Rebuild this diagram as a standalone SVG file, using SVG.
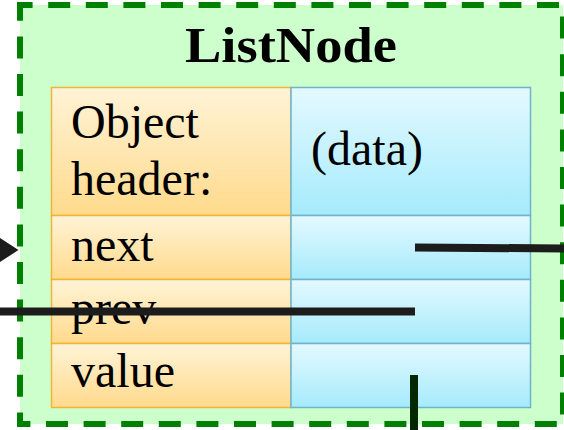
<svg xmlns="http://www.w3.org/2000/svg" width="564" height="430" viewBox="0 0 564 430">
  <defs>
    <linearGradient id="gOrange" x1="0" y1="0" x2="0" y2="1">
      <stop offset="0" stop-color="#fff3d6"/>
      <stop offset="1" stop-color="#ffda8c"/>
    </linearGradient>
    <linearGradient id="gBlue" x1="0" y1="0" x2="0" y2="1">
      <stop offset="0" stop-color="#e4f9ff"/>
      <stop offset="1" stop-color="#a5ebfc"/>
    </linearGradient>
  </defs>
  <style>
    .frame { fill: #ccffcc; stroke: #008000; stroke-width: 6; stroke-dasharray: 22 15.6; stroke-dashoffset: 9.4; }
    .key { fill: url(#gOrange); stroke: #f2b33a; stroke-width: 1.5; }
    .val { fill: url(#gBlue); stroke: #6fb2cc; stroke-width: 1.5; }
    .label { font-family: "Liberation Serif", "Times New Roman", serif; font-size: 48px; fill: #000; }
    .title { font-family: "Liberation Serif", "Times New Roman", serif; font-size: 51px; font-weight: bold; fill: #000; }
    .ptr { stroke: #1c1c1c; stroke-width: 8; fill: none; }
    .ptr-down { stroke: #022802; stroke-width: 8; fill: none; }
  </style>

  <!-- ListNode container with its fields -->
  <g id="listnode">
    <rect class="frame" x="20" y="5" width="543" height="419"/>
    <text class="title" x="291" y="62" text-anchor="middle" textLength="212" lengthAdjust="spacingAndGlyphs">ListNode</text>

    <g id="field-header">
      <rect class="key" x="51.5" y="87.5" width="239.5" height="128"/>
      <rect class="val" x="291" y="87.5" width="239.5" height="128"/>
      <text class="label" x="71" y="138">Object</text>
      <text class="label" x="71" y="195">header:</text>
      <text class="label" x="311" y="165">(data)</text>
    </g>
    <g id="field-next">
      <rect class="key" x="51.5" y="215.5" width="239.5" height="64"/>
      <rect class="val" x="291" y="215.5" width="239.5" height="64"/>
      <text class="label" x="71" y="261">next</text>
    </g>
    <g id="field-prev">
      <rect class="key" x="51.5" y="279.5" width="239.5" height="64"/>
      <rect class="val" x="291" y="279.5" width="239.5" height="64"/>
      <text class="label" x="71" y="324">prev</text>
    </g>
    <g id="field-value">
      <rect class="key" x="51.5" y="343.5" width="239.5" height="64"/>
      <rect class="val" x="291" y="343.5" width="239.5" height="64"/>
      <text class="label" x="71" y="387">value</text>
    </g>
  </g>

  <!-- pointers -->
  <g id="connectors">
    <line class="ptr" x1="415" y1="247.5" x2="564" y2="248.5"/>
    <line class="ptr" x1="0" y1="311.5" x2="415" y2="311.5"/>
    <line class="ptr-down" x1="414" y1="375" x2="414" y2="430"/>
    <path d="M0,238 L18.5,250 L0,262 z" fill="#1c1c1c"/>
  </g>
</svg>
